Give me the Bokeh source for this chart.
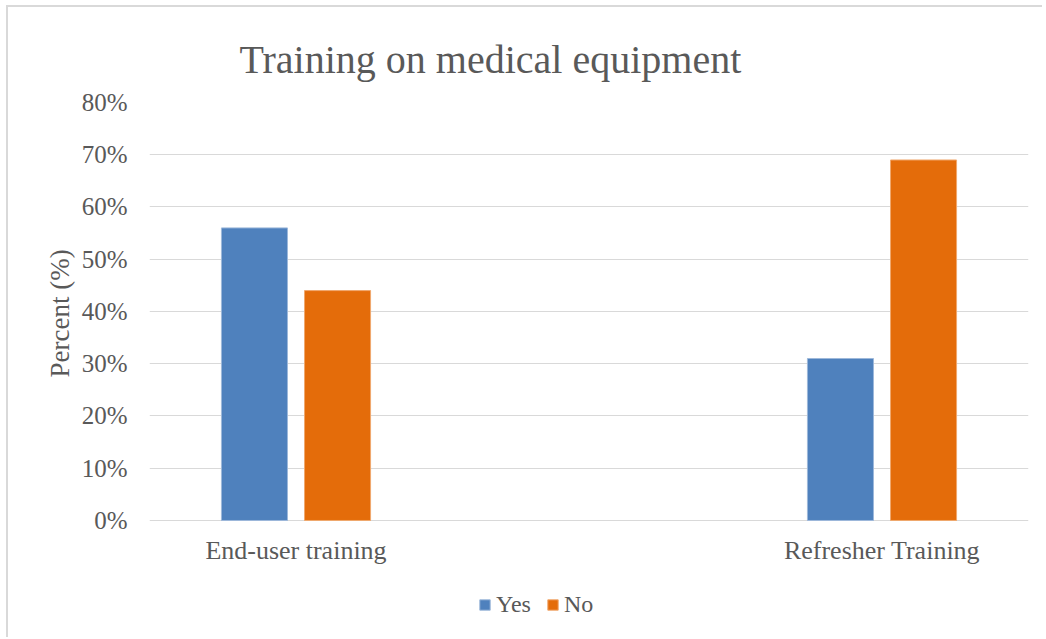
from bokeh.plotting import figure
from bokeh.models import (Range1d, FixedTicker, ColumnDataSource, Legend, LegendItem,
                          NumeralTickFormatter, Title)
from bokeh.transform import dodge
from bokeh.embed import file_html
from bokeh.resources import INLINE

# ---- data ----
categories = ["End-user training", "Refresher Training"]
series = ["Yes", "No"]
yes_values = [0.56, 0.31]
no_values = [0.44, 0.69]
y_ticks = [0.0, 0.1, 0.2, 0.3, 0.4, 0.5, 0.6, 0.7, 0.8]

title_text = "Training on medical equipment"
y_label = "Percent (%)"

colors = ["#4F81BD", "#E46C0A"]
text_color = "#595959"
grid_color = "#D9D9D9"
font = "Liberation Serif"

idx = list(range(len(categories)))
source = ColumnDataSource(data=dict(x=idx, yes=yes_values, no=no_values))

# frame extends below the 0% line so that category labels and legend sit inside it
p = figure(width=1036, height=632,
           x_range=Range1d(-0.25, 1.25), y_range=Range1d(-0.2278, 0.8),
           output_backend="svg", toolbar_location=None,
           min_border_left=141, min_border_right=16,
           min_border_top=95, min_border_bottom=0)

bar_w = 0.1127
off = 0.0709
r_yes = p.vbar(x=dodge("x", -off, range=p.x_range), top="yes", width=bar_w,
               source=source, fill_color=colors[0], line_color="#9DB8DA", line_width=1)
r_no = p.vbar(x=dodge("x", off, range=p.x_range), top="no", width=bar_w,
              source=source, fill_color=colors[1], line_color="#F0A86E", line_width=1)

# title
p.title.text = title_text
p.title.text_font = font
p.title.text_font_size = "40px"
p.title.text_font_style = "normal"
p.title.text_color = text_color
p.title.align = "left"
p.title.offset = 90
p.title.standoff = 41

p.outline_line_color = None
p.background_fill_color = "white"
p.border_fill_color = "white"

xa = p.xaxis[0]
xa.fixed_location = 0
xa.ticker = FixedTicker(ticks=idx)
xa.major_label_overrides = {i: c for i, c in zip(idx, categories)}
xa.axis_line_color = None
xa.major_tick_line_color = None
xa.minor_tick_line_color = None
xa.major_label_standoff = 10
xa.major_label_text_font = font
xa.major_label_text_font_size = "26px"
xa.major_label_text_color = text_color

ya = p.yaxis[0]
ya.ticker = FixedTicker(ticks=y_ticks)
ya.formatter = NumeralTickFormatter(format="0%")
ya.axis_line_color = None
ya.major_tick_line_color = None
ya.minor_tick_line_color = None
ya.major_label_standoff = 16
ya.major_label_text_font = font
ya.major_label_text_font_size = "25px"
ya.major_label_text_color = text_color

ylab = Title(text=y_label, align="left", offset=262, standoff=7,
             text_font=font, text_font_size="27px", text_font_style="normal",
             text_color=text_color)
p.add_layout(ylab, "left")

p.xgrid.grid_line_color = None
p.ygrid.grid_line_color = grid_color
p.ygrid.grid_line_width = 1
p.ygrid.ticker = FixedTicker(ticks=y_ticks)

legend = Legend(items=[LegendItem(label=series[0], renderers=[r_yes]),
                       LegendItem(label=series[1], renderers=[r_no])],
                orientation="horizontal", location=(329, 21))
legend.label_text_font = font
legend.label_text_font_size = "24px"
legend.label_text_color = text_color
legend.glyph_width = 13
legend.glyph_height = 13
legend.label_standoff = 5
legend.spacing = 15
legend.padding = 0
legend.margin = 0
legend.border_line_color = None
legend.background_fill_alpha = 0
p.add_layout(legend)

p.styles = {"border-left": "2px solid #D9D9D9", "border-top": "2px solid #D9D9D9",
            "margin-left": "6px", "margin-top": "5px"}

open("out.html", "w").write(file_html(p, INLINE))
